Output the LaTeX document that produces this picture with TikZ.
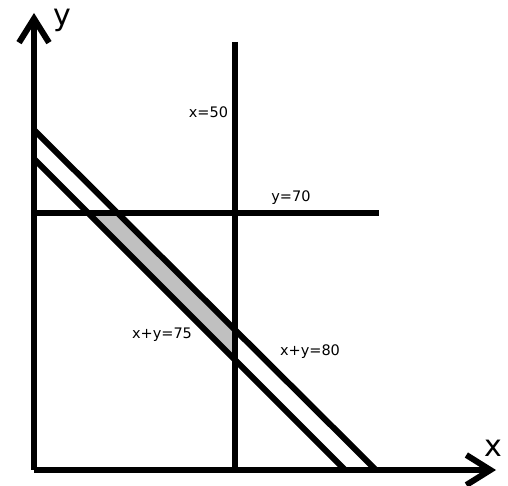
\documentclass[tikz,border=0pt]{standalone}
\usepackage{fontspec}
\setmainfont{DejaVu Sans}
\usetikzlibrary{arrows.meta}
\definecolor{region}{RGB}{192,192,192}

\begin{document}
\begin{tikzpicture}[x=1pt,y=1pt,line width=6pt,
  ax/.style={-{Straight Barb[length=24pt,width=30pt]}},
  lbl/.style={font=\fontsize{14.5}{16}\selectfont,inner sep=1pt},
  axlbl/.style={font=\fontsize{30}{32}\selectfont,inner sep=0pt}]
\useasboundingbox (0,0) rectangle (508,486);
% axes
\coordinate (O) at (34,16);
\coordinate (xend) at (496,16);
\coordinate (yend) at (34,473);
\draw[ax] (O) -- (xend);
\draw[ax] (O) -- (yend);
\node[axlbl] (xl) at (493,38) {x};
\node[axlbl] (yl) at (62,466) {y};
% shaded region
\fill[region] (88,273) -- (117,273) -- (235,156) -- (235,127) -- cycle;
% constraint lines
\coordinate (va) at (235,444);
\coordinate (vb) at (235,16);
\draw (va) -- (vb);
\coordinate (ha) at (34,273);
\coordinate (hb) at (379,273);
\draw (ha) -- (hb);
\coordinate (oa) at (34,356);
\coordinate (ob) at (376,16);
\draw (oa) -- (ob);
\coordinate (ia) at (34,327);
\coordinate (ib) at (345,16);
\draw (ia) -- (ib);
% labels
\node[lbl,anchor=east] (x50) at (232,374) {x=50};
\node[lbl] (y70) at (291,288) {y=70};
\node[lbl] (s75) at (162,151) {x+y=75};
\node[lbl] (s80) at (310,134) {x+y=80};
\end{tikzpicture}
\end{document}
